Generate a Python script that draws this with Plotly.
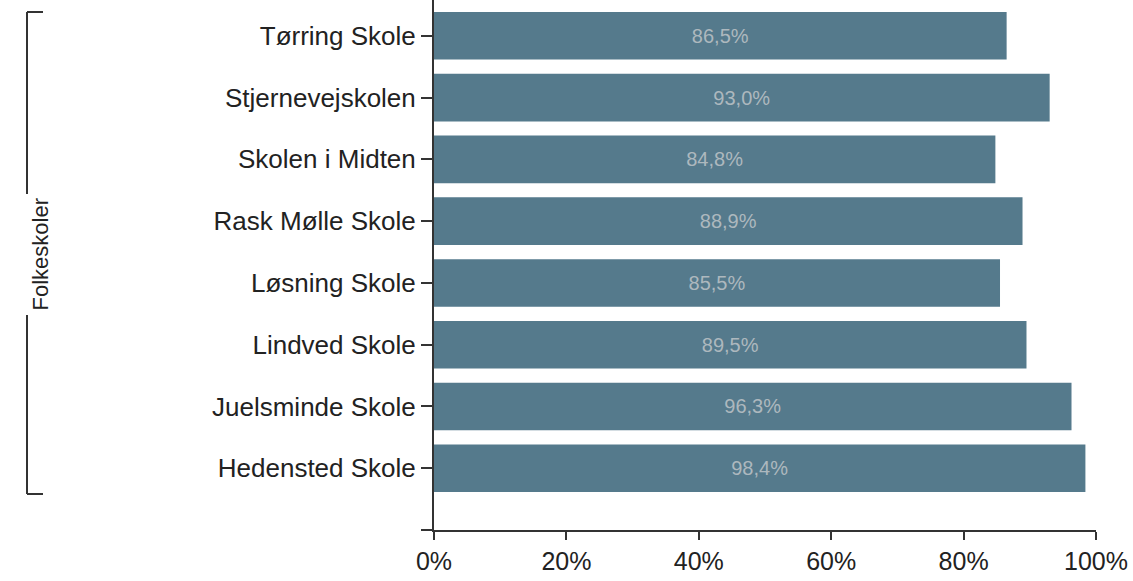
import plotly.graph_objects as go

schools = ["Tørring Skole", "Stjernevejskolen", "Skolen i Midten", "Rask Mølle Skole",
           "Løsning Skole", "Lindved Skole", "Juelsminde Skole", "Hedensted Skole"]
shares = [86.5, 93.0, 84.8, 88.9, 85.5, 89.5, 96.3, 98.4]
x_ticks = [0, 20, 40, 60, 80, 100]
group_label = "Folkeskoler"

_BAR = "#557a8c"
_TXT = "#222222"
_FAM = "Liberation Sans, Arial, sans-serif"

W, H = 1133, 581
L, R, T, B = 434, 37, 0, 51
pw, ph = W - L - R, H - T - B


def px_x(p):
    return (p - L) / pw


def px_y(p):
    return (H - B - p) / ph


pos = list(range(len(schools)))
labels = [f"{v:.1f}%".replace(".", ",") for v in shares]

fig = go.Figure(go.Bar(
    x=shares, y=pos, orientation="h",
    width=0.77,
    marker=dict(color=_BAR, line=dict(width=0)),
    text=labels, textposition="inside", insidetextanchor="middle",
    textfont=dict(size=20, color="#adb8be", family=_FAM),
    hoverinfo="skip",
))

fig.update_layout(
    width=W, height=H,
    paper_bgcolor="white", plot_bgcolor="white",
    font=dict(family=_FAM, color=_TXT, size=26),
    margin=dict(l=L, r=R, t=T, b=B, pad=0),
    showlegend=False,
    uniformtext=dict(minsize=8, mode="show"),
    xaxis=dict(range=[0, 100], tickvals=x_ticks, ticktext=[f"{t}%" for t in x_ticks],
               showgrid=False, zeroline=False, showline=True, linecolor="#333",
               linewidth=2, ticks="outside", ticklen=8, tickcolor="#333",
               tickwidth=2, tickfont=dict(size=25, color=_TXT)),
    yaxis=dict(range=[8, -0.58], tickvals=pos + [8], ticktext=schools + [""],
               showgrid=False, zeroline=False, showline=True, linecolor="#333",
               linewidth=2, ticks="outside", ticklen=11, tickcolor="#333",
               tickwidth=2, tickfont=dict(size=26, color=_TXT)),
)

# bracket grouping the schools
bx, bx2, by0, by1 = 27, 43, 12, 494
line = dict(color="#333", width=2)
fig.add_shape(type="line", xref="paper", yref="paper", x0=px_x(bx), x1=px_x(bx),
              y0=px_y(by0), y1=px_y(by1), line=line)
fig.add_shape(type="line", xref="paper", yref="paper", x0=px_x(bx), x1=px_x(bx2),
              y0=px_y(by0), y1=px_y(by0), line=line)
fig.add_shape(type="line", xref="paper", yref="paper", x0=px_x(bx), x1=px_x(bx2),
              y0=px_y(by1), y1=px_y(by1), line=line)
fig.add_annotation(text=group_label, xref="paper", yref="paper",
                   x=px_x(bx - 5), y=px_y(255), textangle=-90, showarrow=False,
                   bgcolor="white", borderpad=4,
                   font=dict(size=22, color=_TXT))

fig.write_html("out.html", config={"displayModeBar": False},
               post_script="document.body.style.margin='0';")
